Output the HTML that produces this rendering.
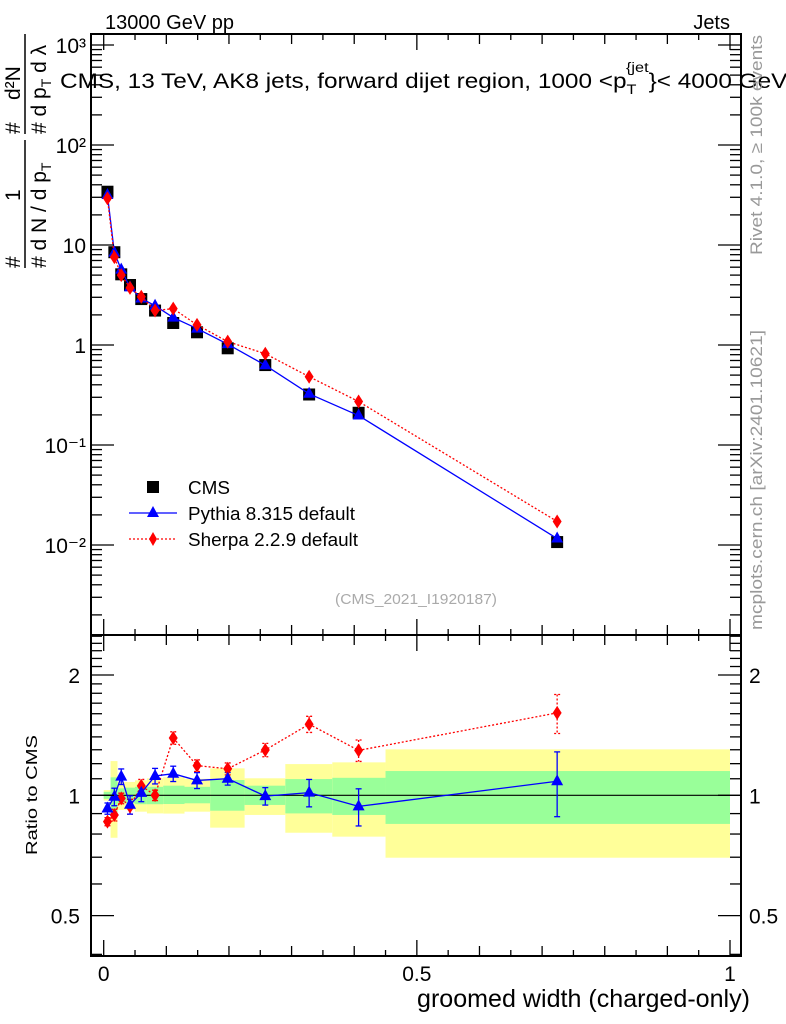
<!DOCTYPE html>
<html><head><meta charset="utf-8"><style>
body{margin:0;background:#fff}
svg{display:block;font-family:"Liberation Sans",sans-serif}
</style></head><body>
<svg id="chart" width="786" height="1024" viewBox="0 0 786 1024" xmlns="http://www.w3.org/2000/svg">
<rect x="0" y="0" width="786" height="1024" fill="#fff"/>
<g id="bands"></g>
<g id="marks"></g>
<g id="axes"></g>
<text x="105" y="29" font-size="20">13000 GeV pp</text>
<text x="730" y="29" font-size="20" text-anchor="end">Jets</text>
<g transform="translate(60,88) scale(1.16,1)">
<text x="0" y="0" font-size="21">CMS, 13 TeV, AK8 jets, forward dijet region, 1000 &lt;p<tspan font-size="14" dy="6">T</tspan><tspan font-size="14" dx="-9" dy="-22">{jet</tspan><tspan font-size="21" dy="16">}&lt; 4000 GeV</tspan></text>
</g>
<g font-size="21">
<text transform="translate(46,268) rotate(-90)">#  d N / d p<tspan font-size="14" dy="5">T</tspan></text>
<text transform="translate(46,134) rotate(-90)">#  d p<tspan font-size="14" dy="5">T</tspan><tspan dy="-5"> d λ</tspan></text>
<text transform="translate(20,268) rotate(-90)">#</text>
<text transform="translate(20,201) rotate(-90)">1</text>
<text transform="translate(20,134) rotate(-90)">#</text>
<text transform="translate(20,100) rotate(-90)">d²N</text>
<line x1="25" y1="140" x2="25" y2="268" stroke="#000" stroke-width="1.5"/>
<line x1="25" y1="34" x2="25" y2="134" stroke="#000" stroke-width="1.5"/>
</g>
<text transform="translate(762,255) rotate(-90)" font-size="17" fill="#999" textLength="220" lengthAdjust="spacingAndGlyphs">Rivet 4.1.0, ≥ 100k events</text>
<text transform="translate(762,630) rotate(-90)" font-size="17" fill="#999" textLength="300" lengthAdjust="spacingAndGlyphs">mcplots.cern.ch [arXiv:2401.10621]</text>
<text x="335" y="604" font-size="15" fill="#aaa" textLength="162" lengthAdjust="spacingAndGlyphs">(CMS_2021_I1920187)</text>
<text transform="translate(37,855) rotate(-90)" font-size="16" textLength="120" lengthAdjust="spacingAndGlyphs">Ratio to CMS</text>
<text x="417" y="1007" font-size="25" textLength="333" lengthAdjust="spacingAndGlyphs">groomed width (charged-only)</text>
<g>
<rect x="147" y="481" width="12" height="12" fill="#000"/>
<text x="188" y="494" font-size="18" textLength="42" lengthAdjust="spacingAndGlyphs">CMS</text>
<line x1="129" y1="513" x2="177" y2="513" stroke="#00f" stroke-width="1.3"/>
<polygon points="153,506 159,517 147,517" fill="#00f"/>
<text x="188" y="520" font-size="18" textLength="167" lengthAdjust="spacingAndGlyphs">Pythia 8.315 default</text>
<line x1="129" y1="539" x2="177" y2="539" stroke="#f00" stroke-width="1.3" stroke-dasharray="2,2"/>
<polygon points="153,532 157,539 153,546 149,539" fill="#f00"/>
<text x="188" y="546" font-size="18" textLength="170" lengthAdjust="spacingAndGlyphs">Sherpa 2.2.9 default</text>
</g>
</svg>
<script>
const xCenters=[0.006,0.017,0.028,0.042,0.060,0.082,0.111,0.149,0.198,0.258,0.328,0.407,0.724];
const binEdges=[0,0.011,0.022,0.033,0.05,0.069,0.095,0.129,0.17,0.225,0.29,0.365,0.45,1.0];
const cmsValues=[34.1,8.47,5.09,3.98,2.88,2.21,1.66,1.34,0.927,0.63,0.32,0.21,0.0107];
const pythiaValues=[31.6,8.40,5.67,3.77,2.92,2.47,1.88,1.46,1.02,0.627,0.325,0.197,0.0116];
const sherpaValues=[29.3,7.56,5.0,3.73,3.04,2.21,2.31,1.59,1.08,0.818,0.482,0.272,0.0172];
const pythiaErr=[0.03,0.05,0.05,0.05,0.05,0.05,0.05,0.05,0.04,0.05,0.08,0.1,0.2];
const sherpaErr=[0.02,0.03,0.03,0.04,0.04,0.03,0.05,0.04,0.04,0.05,0.07,0.08,0.18];
const yellowLo=[0.97,0.783,0.919,0.92,0.91,0.901,0.9,0.91,0.83,0.893,0.806,0.788,0.698];
const yellowHi=[1.03,1.218,1.081,1.08,1.09,1.103,1.11,1.1,1.168,1.103,1.197,1.209,1.303];
const greenLo=[0.98,0.901,0.955,0.955,0.95,0.95,0.951,0.955,0.915,0.946,0.901,0.893,0.848];
const greenHi=[1.02,1.109,1.041,1.045,1.05,1.05,1.057,1.05,1.092,1.057,1.098,1.106,1.15];
const mainTickLabels=["10⁻²","10⁻¹","1","10","10²","10³"];
const ratioTickLabels=["0.5","1","2"];
const xTickLabels=["0","0.5","1"];

const NS="http://www.w3.org/2000/svg";
const L=91,R=741,T=34,MID=635,B=956;
const xs=v=>103.7+v*626.3;
const ym=v=>345-100*Math.log10(v);
const yr=v=>795.3-399.7*Math.log10(v);
function el(tag,attrs,parent){const e=document.createElementNS(NS,tag);for(const k in attrs)e.setAttribute(k,attrs[k]);parent.appendChild(e);return e;}
const bands=document.getElementById('bands'),marks=document.getElementById('marks'),axes=document.getElementById('axes');

for(let i=0;i<binEdges.length-1;i++){
  const x0=xs(binEdges[i]),x1=xs(binEdges[i+1]);
  const y=el('rect',{x:x0,y:yr(yellowHi[i]),width:x1-x0,height:yr(yellowLo[i])-yr(yellowHi[i]),fill:'#ffff99'},bands);
  
  
  const g=el('rect',{x:x0,y:yr(greenHi[i]),width:x1-x0,height:yr(greenLo[i])-yr(greenHi[i]),fill:'#99ff99'},bands);
  
  
}
el('line',{x1:L,x2:R,y1:yr(1),y2:yr(1),stroke:'#000','stroke-width':1.2},bands);

function series(vals,yf,color,dash,shape,name,noLine){
  if(!noLine){
    const pts=xCenters.map((x,i)=>xs(x)+','+yf(vals[i])).join(' ');
    const pl=el('polyline',{points:pts,fill:'none',stroke:color,'stroke-width':1.3},marks);
    if(dash)pl.setAttribute('stroke-dasharray','2,2');
    
    
  }
  xCenters.forEach((x,i)=>{
    const cx=xs(x),cy=yf(vals[i]);let m;
    if(shape==='tri')m=el('polygon',{points:`${cx},${cy-7} ${cx+6},${cy+4} ${cx-6},${cy+4}`,fill:color},marks);
    else if(shape==='dia')m=el('polygon',{points:`${cx},${cy-7} ${cx+4.5},${cy} ${cx},${cy+7} ${cx-4.5},${cy}`,fill:color},marks);
    else m=el('rect',{x:cx-6,y:cy-6,width:12,height:12,fill:color},marks);
    
    
  });
}
series(cmsValues,ym,'#000',false,'sq','cms',true);
series(pythiaValues,ym,'#00f',false,'tri','pythia');
series(sherpaValues,ym,'#f00',true,'dia','sherpa');

const pr=pythiaValues.map((v,i)=>v/cmsValues[i]);
const sr=sherpaValues.map((v,i)=>v/cmsValues[i]);
function errs(r,e,color,dash,name){
  r.forEach((v,i)=>{
    const cx=xs(xCenters[i]);
    const g=el('g',{stroke:color,'stroke-width':1.3},marks);
    
    
    if(dash)g.setAttribute('stroke-dasharray','2,2');
    el('line',{x1:cx,x2:cx,y1:yr(v+e[i]),y2:yr(v-e[i])},g);
    el('line',{x1:cx-3,x2:cx+3,y1:yr(v+e[i]),y2:yr(v+e[i])},g);
    el('line',{x1:cx-3,x2:cx+3,y1:yr(v-e[i]),y2:yr(v-e[i])},g);
  });
}
errs(sr,sherpaErr,'#f00',true,'sherpa-ratio');
errs(pr,pythiaErr,'#00f',false,'pythia-ratio');
series(sr,yr,'#f00',true,'dia','sherpa-ratio');
series(pr,yr,'#00f',false,'tri','pythia-ratio');

el('rect',{x:L,y:T,width:R-L,height:MID-T,fill:'none',stroke:'#000','stroke-width':2},axes);
el('rect',{x:L,y:MID,width:R-L,height:B-MID,fill:'none',stroke:'#000','stroke-width':2},axes);
for(let d=-3;d<=3;d++)for(let m=1;m<10;m++){
  const v=m*Math.pow(10,d),y=ym(v);if(y<T||y>MID)continue;
  const len=m===1?23:11;
  el('line',{x1:L,x2:L+len,y1:y,y2:y,stroke:'#000','stroke-width':1.3},axes);
  el('line',{x1:R,x2:R-len,y1:y,y2:y,stroke:'#000','stroke-width':1.3},axes);
}
mainTickLabels.forEach((t,i)=>{
  const tx=el('text',{x:86,y:ym(Math.pow(10,i-2))+8,'font-size':21,'text-anchor':'end'},axes);
  tx.textContent=t;
  
  
});
[0.4,0.5,0.6,0.7,0.8,0.9,1,1.1,1.2,1.3,1.4,1.5,1.6,1.7,1.8,1.9,2,2.1,2.2,2.3,2.4,2.5].forEach(v=>{
  const y=yr(v);if(y<MID||y>B)return;
  const len=(v===0.5||v===1||v===2)?23:11;
  el('line',{x1:L,x2:L+len,y1:y,y2:y,stroke:'#000','stroke-width':1.3},axes);
  el('line',{x1:R,x2:R-len,y1:y,y2:y,stroke:'#000','stroke-width':1.3},axes);
});
[0.5,1,2].forEach((v,i)=>{
  const a=el('text',{x:80,y:yr(v)+8,'font-size':21,'text-anchor':'end'},axes);a.textContent=ratioTickLabels[i];
  
  
  const b=el('text',{x:749,y:yr(v)+8,'font-size':21},axes);b.textContent=ratioTickLabels[i];
  
  
});
for(let k=0;k<=20;k++){
  const v=k*0.05,x=xs(v);const len=k%10===0?16:(k%2===0?10:6);
  [T,MID].forEach(y0=>el('line',{x1:x,x2:x,y1:y0,y2:y0+len,stroke:'#000','stroke-width':1.3},axes));
  [MID,B].forEach(y0=>el('line',{x1:x,x2:x,y1:y0,y2:y0-len,stroke:'#000','stroke-width':1.3},axes));
}
[0,0.5,1].forEach((v,i)=>{
  const t=el('text',{x:xs(v),y:981,'font-size':21,'text-anchor':'middle'},axes);t.textContent=xTickLabels[i];
  
  
});
</script>
</body></html>
